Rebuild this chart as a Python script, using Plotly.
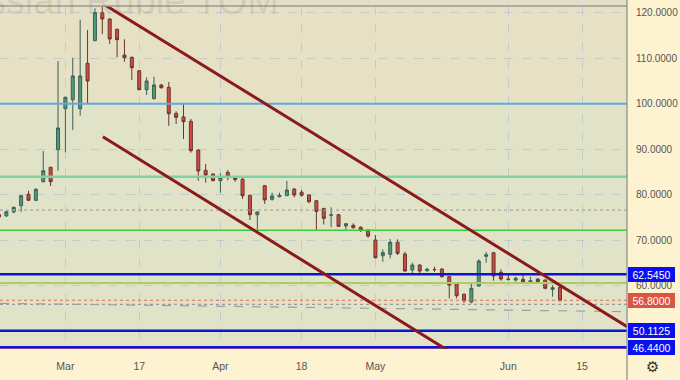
import plotly.graph_objects as go
import numpy as np

# ---------------- data ----------------
dates = ["2022-02-15","2022-02-16","2022-02-17","2022-02-18","2022-02-21","2022-02-22","2022-02-24","2022-02-25",
         "2022-02-28","2022-03-01","2022-03-02","2022-03-03","2022-03-04","2022-03-09","2022-03-10","2022-03-11",
         "2022-03-14","2022-03-15","2022-03-16","2022-03-17","2022-03-18","2022-03-21","2022-03-22","2022-03-23",
         "2022-03-24","2022-03-25","2022-03-28","2022-03-29","2022-03-30","2022-03-31","2022-04-01","2022-04-04",
         "2022-04-05","2022-04-06","2022-04-07","2022-04-08","2022-04-11","2022-04-12","2022-04-13","2022-04-14",
         "2022-04-15","2022-04-18","2022-04-19","2022-04-20","2022-04-21","2022-04-22","2022-04-25","2022-04-26",
         "2022-04-27","2022-04-28","2022-04-29","2022-05-04","2022-05-05","2022-05-06","2022-05-11","2022-05-12",
         "2022-05-13","2022-05-16","2022-05-17","2022-05-18","2022-05-19","2022-05-20","2022-05-23","2022-05-24",
         "2022-05-25","2022-05-26","2022-05-27","2022-05-30","2022-05-31","2022-06-01","2022-06-02","2022-06-03",
         "2022-06-06","2022-06-07","2022-06-08","2022-06-09","2022-06-10"]

opens = [75.65,75.32,76.20,77.58,80.09,78.77,82.86,86.02,
         89.89,98.90,100.88,98.90,108.88,113.85,120.00,118.62,
         116.35,110.70,110.20,107.25,103.08,101.10,104.11,103.60,
         97.89,97.08,96.13,89.82,85.36,84.55,83.08,84.92,
         83.82,83.38,79.87,75.60,81.98,78.99,79.56,79.78,
         81.25,80.53,79.93,78.68,76.97,75.50,75.60,73.12,
         73.27,72.84,72.18,70.04,66.59,66.90,69.54,66.97,
         63.45,64.55,63.30,63.58,63.67,61.98,60.37,58.11,
         56.42,59.93,66.46,67.25,62.95,61.43,61.25,61.41,
         60.75,61.47,61.25,59.21,59.65]
highs = [75.98,76.48,77.36,79.93,80.88,81.41,89.60,86.15,
         109.38,101.54,110.11,118.46,116.20,120.97,121.32,118.77,
         116.48,114.15,110.33,107.40,105.80,105.93,104.33,104.77,
         98.33,100.09,96.64,89.98,86.75,84.70,84.70,85.43,
         83.96,83.82,80.00,76.35,82.13,80.44,80.44,83.01,
         81.41,81.03,80.09,78.84,77.14,77.23,75.76,73.78,
         73.71,73.05,72.46,71.14,68.00,70.26,70.20,67.47,
         65.05,64.70,63.96,64.18,63.82,62.13,60.53,58.33,
         60.75,65.80,67.47,67.41,63.60,62.35,61.98,62.73,
         61.98,61.63,61.41,60.15,59.78]
lows = [74.88,75.20,75.91,76.26,78.62,78.62,82.64,81.91,
        85.27,89.32,94.22,97.36,100.09,113.85,115.25,113.12,
        110.20,109.23,105.21,102.95,101.91,100.97,103.30,95.16,
        95.54,92.24,89.23,83.08,82.64,82.95,80.44,83.16,
        82.86,79.05,74.44,72.24,77.96,78.68,79.43,79.71,
        79.43,79.56,78.11,72.24,73.45,72.84,72.90,72.24,
        72.53,71.80,70.55,66.02,65.27,66.02,66.75,63.08,
        62.73,62.73,63.08,63.08,61.76,57.23,57.23,56.26,
        56.13,59.78,65.05,61.10,61.10,61.10,60.88,60.37,
        60.53,60.75,59.21,57.58,56.48]
closes = [75.10,76.26,77.23,79.78,78.77,81.19,85.27,82.86,
          94.66,101.41,106.09,106.09,104.99,120.00,118.62,114.22,
          114.07,110.11,107.91,103.08,104.99,104.11,103.52,97.80,
          97.01,96.04,89.67,85.21,84.33,83.08,83.82,84.04,
          83.30,79.78,75.60,76.20,78.84,79.71,79.87,81.03,
          79.93,79.87,78.46,76.35,74.81,75.56,73.05,73.63,
          72.75,72.24,70.92,66.15,67.25,69.54,67.12,63.23,
          64.55,63.23,63.60,63.52,61.98,60.15,57.80,56.70,
          59.43,65.43,66.81,62.13,61.47,61.40,61.63,60.88,
          61.10,60.88,59.43,59.56,56.80]

tick_dates = ["2022-03-01","2022-03-17","2022-04-01","2022-04-18","2022-05-04","2022-06-01","2022-06-15"]
tick_labels = ["Mar","17","Apr","18","May","Jun","15"]

# horizontal levels: (value, colour, width, dash)
level_values = [100.0, 83.96, 76.6, 72.2, 62.545, 60.6, 56.8, 55.9, 50.1125, 46.44, 46.05]
level_colors = ["#5eaadb", "#7fd3a3", "#a8a8a0", "#3ccc3c", "#0a16d6", "#a9cf62", "#e06a55", "#9a9a9a", "#0a16d6", "#0a16d6", "#e0705a"]
level_widths = [2, 2.5, 1.2, 1.5, 2.5, 2, 1.2, 1.2, 2.5, 3, 1.2]
level_dashes = ["solid", "solid", "dot", "solid", "solid", "solid", "dot", "dot", "solid", "solid", "solid"]

# channel trend lines (bar-index, value)
upper_line = [(13.26, 122.8), (85.1, 50.99)]
lower_line = [(14.07, 92.75), (61.6, 44.99)]
dashed_line = [(0.14, 56.13), (85.1, 54.29)]

# price-scale labels
box_values = [62.545, 56.8, 50.1125, 46.44]
box_texts = ["62.5450", "56.8000", "50.1125", "46.4400"]
box_colors = ["#0a10ee", "#d95545", "#0a10ee", "#0a10ee"]

# ---------------- build ----------------
idx = list(range(len(dates)))
last_idx = len(dates) - 1
tick_pos = []
for d in tick_dates:
    if d in dates:
        tick_pos.append(dates.index(d))
    else:
        tick_pos.append(last_idx + int(np.busday_count(dates[-1], d)))

fig = go.Figure()
fig.add_trace(go.Candlestick(
    x=idx, open=opens, high=highs, low=lows, close=closes,
    increasing=dict(fillcolor="#4f9a7b", line=dict(color="#3d5f55", width=1)),
    decreasing=dict(fillcolor="#cf4b40", line=dict(color="#6a3530", width=1)),
    whiskerwidth=0, showlegend=False, hoverinfo="skip"))

YMIN, YMAX = 46.09, 121.47
XMIN, XMAX = 0.14, 85.08

shapes = []
# background bands
shapes.append(dict(type="rect", xref="paper", yref="y", x0=0, x1=1, y0=100, y1=YMAX,
                   fillcolor="#e6e1c5", line_width=0, layer="below"))
shapes.append(dict(type="rect", xref="paper", yref="y", x0=0, x1=1, y0=YMIN, y1=100,
                   fillcolor="#e1e3c8", line_width=0, layer="below"))
# levels
for v, c, w, d in zip(level_values, level_colors, level_widths, level_dashes):
    shapes.append(dict(type="line", xref="paper", yref="y", x0=0, x1=1, y0=v, y1=v,
                       line=dict(color=c, width=w, dash=d), layer="above"))
# dashed sloping line
shapes.append(dict(type="line", xref="x", yref="y", x0=dashed_line[0][0], y0=dashed_line[0][1],
                   x1=dashed_line[1][0], y1=dashed_line[1][1],
                   line=dict(color="#a0a09a", width=1.2, dash="dash"), layer="above"))
# channel
for ln in (upper_line, lower_line):
    shapes.append(dict(type="line", xref="x", yref="y", x0=ln[0][0], y0=ln[0][1],
                       x1=ln[1][0], y1=ln[1][1],
                       line=dict(color="#8b1a1c", width=3), layer="above"))
# top strip and borders
shapes.append(dict(type="rect", xref="paper", yref="paper", x0=0, x1=1, y0=1, y1=1.05,
                   fillcolor="#e4dfca", line_width=0, layer="below"))
shapes.append(dict(type="line", xref="paper", yref="paper", x0=0, x1=1, y0=1, y1=1,
                   line=dict(color="#9a9a92", width=1.5)))
shapes.append(dict(type="line", xref="paper", yref="paper", x0=1, x1=1, y0=-0.1, y1=1.05,
                   line=dict(color="#8a8a84", width=1.2)))

annotations = []
for v, t, c in zip(box_values, box_texts, box_colors):
    annotations.append(dict(xref="paper", yref="y", x=1, y=v, xanchor="left", yanchor="middle",
                            xshift=1, text=t, showarrow=False, bgcolor=c, bordercolor=c,
                            borderwidth=1, borderpad=1, width=43, height=11, align="center",
                            font=dict(family="Liberation Sans, Arial, sans-serif", size=10.5, color="white")))
# watermark
annotations.append(dict(xref="paper", yref="paper", x=281 / 627, y=0.948, xanchor="right", yanchor="bottom",
                        text="US Dollar / Russian Ruble TOM", showarrow=False,
                        font=dict(family="Liberation Sans, Arial, sans-serif", size=38,
                                  color="rgba(110,110,100,0.16)")))
# settings icon
annotations.append(dict(xref="paper", yref="paper", x=1, y=-0.053, xanchor="left", yanchor="middle",
                        xshift=17, text="⚙", showarrow=False,
                        font=dict(family="DejaVu Sans", size=15, color="#333333")))

fig.update_layout(
    width=680, height=380,
    margin=dict(l=0, r=53, t=6, b=31),
    paper_bgcolor="#fef3d0", plot_bgcolor="#e1e3c8",
    shapes=shapes, annotations=annotations,
    boxgap=0.42,
    xaxis=dict(range=[XMIN, XMAX], rangeslider=dict(visible=False), tickvals=tick_pos, ticktext=tick_labels,
               showgrid=True, gridcolor="rgba(170,185,205,0.55)", griddash="dash", gridwidth=1,
               zeroline=False, showline=False, ticks="", ticklabelstandoff=9,
               tickfont=dict(family="Liberation Sans, Arial, sans-serif", size=10.5, color="#555555")),
    yaxis=dict(range=[YMIN, YMAX], side="right", tickvals=[50, 60, 70, 80, 90, 100, 110, 120],
               ticktext=["", "60.0000", "70.0000", "80.0000", "90.0000", "100.0000", "110.0000", "120.0000"],
               showgrid=True, gridcolor="rgba(170,185,205,0.55)", griddash="dash", gridwidth=1,
               zeroline=False, showline=False, ticks="", ticklabelstandoff=8,
               tickfont=dict(family="Liberation Sans, Arial, sans-serif", size=10, color="#555555")),
    hovermode=False,
)

fig.write_html("out.html", config={"displayModeBar": False, "staticPlot": True},
               post_script="document.body.style.margin='0';document.body.style.overflow='hidden';")
